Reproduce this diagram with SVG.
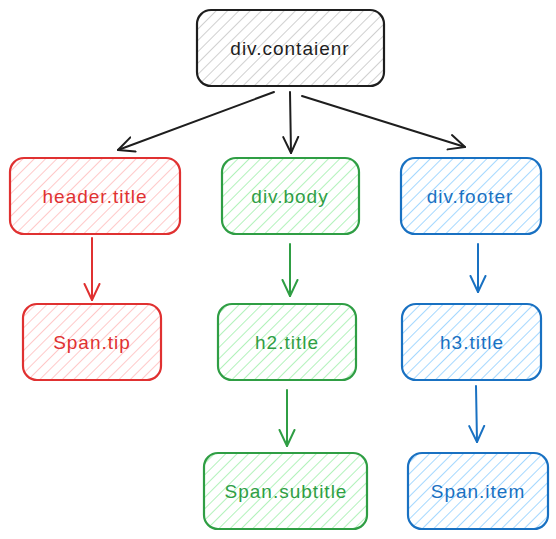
<svg xmlns="http://www.w3.org/2000/svg" width="556" height="539" viewBox="0 0 556 539">
<defs>
<pattern id="hk" patternUnits="userSpaceOnUse" width="8" height="8" patternTransform="rotate(45)"><line x1="0" y1="0" x2="0" y2="8" stroke="#d0d0d0" stroke-width="2"/></pattern>
<pattern id="hr" patternUnits="userSpaceOnUse" width="8" height="8" patternTransform="rotate(45)"><line x1="0" y1="0" x2="0" y2="8" stroke="#ffc9c9" stroke-width="2"/></pattern>
<pattern id="hg" patternUnits="userSpaceOnUse" width="8" height="8" patternTransform="rotate(45)"><line x1="0" y1="0" x2="0" y2="8" stroke="#b2f2bb" stroke-width="2"/></pattern>
<pattern id="hb" patternUnits="userSpaceOnUse" width="8" height="8" patternTransform="rotate(45)"><line x1="0" y1="0" x2="0" y2="8" stroke="#a5d8ff" stroke-width="2"/></pattern>
<marker id="ak" markerWidth="20" markerHeight="20" refX="17" refY="10" orient="auto" markerUnits="userSpaceOnUse"><polyline points="1,2.5 17,10 1,17.5" fill="none" stroke="#1e1e1e" stroke-width="2" stroke-linecap="round" stroke-linejoin="round"/></marker>
<marker id="ar" markerWidth="20" markerHeight="20" refX="17" refY="10" orient="auto" markerUnits="userSpaceOnUse"><polyline points="1,2.5 17,10 1,17.5" fill="none" stroke="#e03131" stroke-width="2" stroke-linecap="round" stroke-linejoin="round"/></marker>
<marker id="ag" markerWidth="20" markerHeight="20" refX="17" refY="10" orient="auto" markerUnits="userSpaceOnUse"><polyline points="1,2.5 17,10 1,17.5" fill="none" stroke="#2f9e44" stroke-width="2" stroke-linecap="round" stroke-linejoin="round"/></marker>
<marker id="ab" markerWidth="20" markerHeight="20" refX="17" refY="10" orient="auto" markerUnits="userSpaceOnUse"><polyline points="1,2.5 17,10 1,17.5" fill="none" stroke="#1971c2" stroke-width="2" stroke-linecap="round" stroke-linejoin="round"/></marker>
</defs>
<style>
rect{stroke-width:2.2}
.k rect{stroke:#1e1e1e;fill:url(#hk)}
.r rect{stroke:#e03131;fill:url(#hr)}
.g rect{stroke:#2f9e44;fill:url(#hg)}
.b rect{stroke:#1971c2;fill:url(#hb)}
text{font-family:"Liberation Sans",Arial,sans-serif;font-size:19px;letter-spacing:1px;text-anchor:middle;dominant-baseline:central}
.k text{fill:#1e1e1e}
.r text{fill:#e03131}
.g text{fill:#2f9e44}
.b text{fill:#1971c2}
.c line{stroke-width:2;stroke-linecap:round;fill:none}
</style>
<g id="container" class="k"><rect x="197" y="10" width="187" height="76" rx="14"/><text x="290" y="48">div.contaienr</text></g>
<g id="header" class="r"><rect x="10" y="158" width="170" height="76" rx="14"/><text x="95" y="196">header.title</text></g>
<g id="body" class="g"><rect x="222" y="158" width="137" height="76" rx="14"/><text x="290" y="196">div.body</text></g>
<g id="footer" class="b"><rect x="401" y="158" width="140" height="76" rx="14"/><text x="470" y="196">div.footer</text></g>
<g id="spantip" class="r"><rect x="23" y="304" width="138" height="76" rx="14"/><text x="92" y="342">Span.tip</text></g>
<g id="h2title" class="g"><rect x="218" y="304" width="138" height="76" rx="14"/><text x="287" y="342">h2.title</text></g>
<g id="h3title" class="b"><rect x="402" y="304" width="139" height="76" rx="14"/><text x="472" y="342">h3.title</text></g>
<g id="spansubtitle" class="g"><rect x="204" y="453" width="163" height="76" rx="14"/><text x="286" y="491">Span.subtitle</text></g>
<g id="spanitem" class="b"><rect x="408" y="453" width="140" height="76" rx="14"/><text x="478" y="491">Span.item</text></g>
<g id="connectors" class="c">
<line x1="274" y1="92" x2="118" y2="150" stroke="#1e1e1e" marker-end="url(#ak)"/>
<line x1="290" y1="92" x2="291" y2="153" stroke="#1e1e1e" marker-end="url(#ak)"/>
<line x1="302" y1="96" x2="465" y2="147" stroke="#1e1e1e" marker-end="url(#ak)"/>
<line x1="92" y1="238" x2="92" y2="300" stroke="#e03131" marker-end="url(#ar)"/>
<line x1="290" y1="244" x2="290" y2="296" stroke="#2f9e44" marker-end="url(#ag)"/>
<line x1="478" y1="244" x2="478" y2="292" stroke="#1971c2" marker-end="url(#ab)"/>
<line x1="287" y1="390" x2="287" y2="446" stroke="#2f9e44" marker-end="url(#ag)"/>
<line x1="476" y1="386" x2="477" y2="442" stroke="#1971c2" marker-end="url(#ab)"/>
</g>
</svg>
